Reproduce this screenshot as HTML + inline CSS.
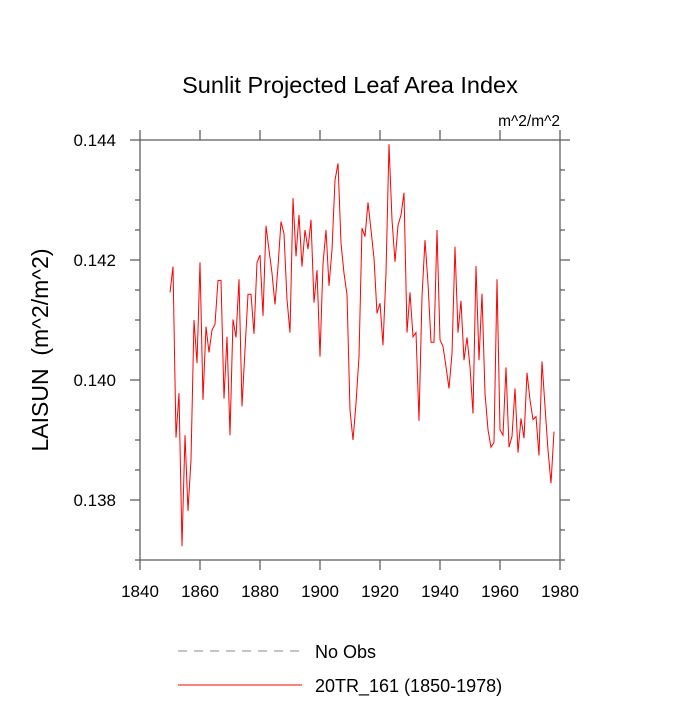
<!DOCTYPE html>
<html><head><meta charset="utf-8"><style>
body{margin:0;background:#fff;font-family:"Liberation Sans",sans-serif}
</style></head><body>
<svg width="700" height="700" viewBox="0 0 700 700" font-family="Liberation Sans, sans-serif">
<text x="350" y="93" font-size="23.5" text-anchor="middle">Sunlit Projected Leaf Area Index</text>
<text x="560" y="126" font-size="15.5" text-anchor="end">m^2/m^2</text>
<text transform="translate(48,350) rotate(-90)" font-size="23" text-anchor="middle" xml:space="preserve">LAISUN  (m^2/m^2)</text>
<g id="axes"></g>
<path id="series" fill="none" stroke="#ff0000" stroke-width="1"/>
<line x1="178" y1="651" x2="302" y2="651" stroke="#888" stroke-dasharray="9,7"/>
<text x="315" y="658" font-size="18">No Obs</text>
<line x1="178" y1="685" x2="302" y2="685" stroke="#ff0000"/>
<text x="315" y="692" font-size="18">20TR_161 (1850-1978)</text>
</svg>
<script>
const startYear = 1850;
const values = [0.14146,0.14189,0.13904,0.13978,0.13723,0.13908,0.13782,0.13867,0.14100,0.14028,
0.14196,0.13967,0.14089,0.14046,0.14083,0.14093,0.14166,0.14166,0.13969,0.14072,
0.13908,0.14101,0.14071,0.14168,0.13956,0.14050,0.14143,0.14143,0.14077,0.14196,
0.14208,0.14107,0.14257,0.14217,0.14178,0.14126,0.14189,0.14264,0.14244,0.14134,
0.14079,0.14303,0.14206,0.14275,0.14189,0.14250,0.14218,0.14267,0.14129,0.14183,
0.14039,0.14194,0.14250,0.14157,0.14217,0.14333,0.14361,0.14228,0.14178,0.14142,
0.13950,0.13900,0.13961,0.14039,0.14253,0.14239,0.14296,0.14250,0.14203,0.14111,
0.14128,0.14058,0.14178,0.14393,0.14267,0.14197,0.14258,0.14275,0.14312,0.14079,
0.14146,0.14072,0.14079,0.13932,0.14139,0.14233,0.14161,0.14063,0.14063,0.14250,
0.14067,0.14056,0.14022,0.13986,0.14044,0.14222,0.14079,0.14132,0.14033,0.14071,
0.14022,0.13944,0.14190,0.14033,0.14144,0.13978,0.13917,0.13888,0.13896,0.14168,
0.13917,0.13908,0.14021,0.13888,0.13906,0.13986,0.13879,0.13936,0.13903,0.14012,
0.13967,0.13934,0.13939,0.13874,0.14031,0.13956,0.13883,0.13828,0.13914];
const xTicks = [1840,1860,1880,1900,1920,1940,1960,1980];
const yTicks = [0.138,0.140,0.142,0.144];
const X0=140,X1=560,Y0=140,Y1=560,xmin=1840,xmax=1980,ymin=0.137,ymax=0.144;
const xs=v=>X0+(v-xmin)/(xmax-xmin)*(X1-X0);
const ys=v=>Y1-(v-ymin)/(ymax-ymin)*(Y1-Y0);
const NS='http://www.w3.org/2000/svg';
const g=document.getElementById('axes');
function ln(x1,y1,x2,y2,name){const l=document.createElementNS(NS,'line');
l.setAttribute('x1',x1);l.setAttribute('y1',y1);l.setAttribute('x2',x2);l.setAttribute('y2',y2);
l.setAttribute('stroke','#555');l.setAttribute('stroke-width','1.2');


g.appendChild(l);}
const fr=document.createElementNS(NS,'rect');
fr.setAttribute('x',X0);fr.setAttribute('y',Y0);fr.setAttribute('width',X1-X0);fr.setAttribute('height',Y1-Y0);
fr.setAttribute('fill','none');fr.setAttribute('stroke','#555');fr.setAttribute('stroke-width','1.2');


g.appendChild(fr);
xTicks.forEach(t=>{const x=xs(t);ln(x,Y1,x,Y1+10,'x-tick');ln(x,Y0,x,Y0-10,'x-tick-top');});
xTicks.forEach(t=>{const tx=document.createElementNS(NS,'text');tx.setAttribute('x',xs(t));tx.setAttribute('y',Y1+37);
tx.setAttribute('font-size','17');tx.setAttribute('text-anchor','middle');tx.textContent=t;


g.appendChild(tx);});
for(let i=0;i<=14;i++){const v=ymin+i*0.0005;const y=ys(v);const maj=(i%4===2);const L=maj?10:5;
ln(X0,y,X0-L,y,'y-tick');ln(X1,y,X1+L,y,'y-tick-right');}
yTicks.forEach(t=>{const tx=document.createElementNS(NS,'text');tx.setAttribute('x',X0-24);tx.setAttribute('y',ys(t)+6);
tx.setAttribute('font-size','17');tx.setAttribute('text-anchor','end');tx.textContent=t.toFixed(3);


g.appendChild(tx);});
document.getElementById('series').setAttribute('d',values.map((v,i)=>(i?'L':'M')+xs(startYear+i).toFixed(1)+','+ys(v).toFixed(1)).join(''));
</script>
</body></html>
